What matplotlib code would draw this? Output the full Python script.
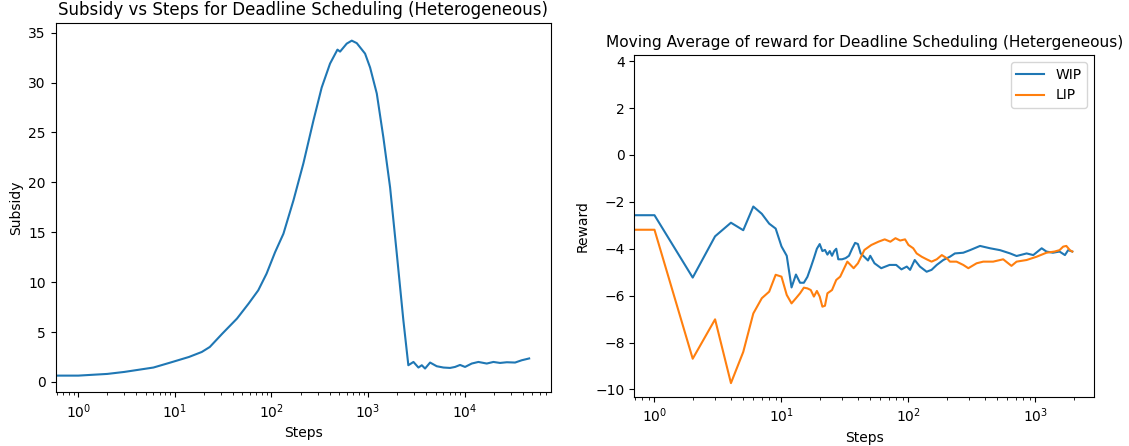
import matplotlib.pyplot as plt

# subsidy curve (left)
sub_steps = [0, 1, 2, 3, 6, 9, 14, 19, 23, 31, 44, 58, 73, 89, 109, 133, 169, 214,
             272, 331, 404, 482, 513, 601, 678, 764, 931, 1050, 1231, 1440, 1690,
             1983, 2318, 2612, 2950, 3320, 3600, 3890, 4385, 5140, 6030, 7060, 7950,
             8960, 10090, 11830, 13870, 16930, 19830, 23240, 27290, 33240, 38990, 46500]
sub_vals = [0.63, 0.63, 0.8, 1.0, 1.44, 1.94, 2.5, 3.0, 3.5, 4.84, 6.35, 7.85, 9.18,
            10.85, 13.0, 14.85, 18.2, 21.9, 26.2, 29.5, 31.9, 33.3, 33.1, 33.9, 34.2,
            33.95, 32.9, 31.5, 28.9, 24.5, 19.5, 12.85, 6.2, 1.67, 2.0, 1.44, 1.67,
            1.34, 1.94, 1.57, 1.44, 1.4, 1.5, 1.7, 1.5, 1.84, 2.0, 1.84, 2.0, 1.9,
            1.97, 1.94, 2.17, 2.35]

# moving average of reward (right)
wip_steps = [0, 1, 2, 3, 4, 5, 6, 7, 8, 9, 10, 11, 12, 13, 14, 15, 16, 17, 18, 19,
             20, 21, 22, 23, 24, 25, 26, 27, 28, 30, 32, 34, 36, 38, 40, 42, 45, 48,
             50, 54, 61, 71, 80, 88, 97, 103, 112, 123, 139, 152, 167, 188, 212, 232,
             270, 305, 366, 439, 526, 632, 710, 852, 961, 1119, 1220, 1372, 1547,
             1706, 1808, 1950]
wip_vals = [-2.57, -2.57, -5.23, -3.47, -2.89, -3.21, -2.2, -2.51, -2.93, -3.14,
            -3.9, -4.3, -5.65, -5.1, -5.45, -5.45, -5.2, -4.8, -4.4, -4.0, -3.8,
            -4.1, -4.05, -4.25, -4.1, -4.3, -4.1, -4.0, -4.45, -4.45, -4.4, -4.3,
            -4.0, -3.75, -3.8, -4.2, -4.35, -4.5, -4.3, -4.62, -4.83, -4.69, -4.69,
            -4.88, -4.76, -4.9, -4.48, -4.76, -4.98, -4.9, -4.69, -4.48, -4.34,
            -4.2, -4.17, -4.06, -3.88, -3.98, -4.06, -4.2, -4.31, -4.2, -4.27,
            -3.98, -4.12, -4.17, -4.12, -4.27, -4.06, -4.12]

lip_steps = [0, 1, 2, 3, 4, 5, 6, 7, 8, 9, 10, 11, 12, 13, 14, 15, 16, 17, 18, 19,
             20, 21, 22, 23, 24, 25, 27, 29, 33, 37, 40, 45, 51, 58, 65, 72, 79, 86,
             94, 100, 109, 116, 127, 139, 152, 167, 183, 201, 212, 239, 270, 296,
             344, 388, 464, 557, 647, 710, 852, 1021, 1220, 1413, 1547, 1653, 1750,
             1866, 1950]
lip_vals = [-3.19, -3.19, -8.69, -7.01, -9.73, -8.4, -6.76, -6.11, -5.83, -5.11,
            -5.19, -5.97, -6.33, -6.11, -5.9, -5.66, -5.69, -5.76, -6.04, -5.8,
            -6.04, -6.47, -6.43, -5.9, -5.83, -5.76, -5.33, -5.19, -4.55, -4.83,
            -4.62, -4.05, -3.84, -3.7, -3.6, -3.7, -3.55, -3.65, -3.6, -3.84,
            -3.98, -4.2, -4.34, -4.45, -4.55, -4.45, -4.27, -4.41, -4.55, -4.55,
            -4.69, -4.83, -4.62, -4.55, -4.55, -4.45, -4.73, -4.55, -4.48, -4.34,
            -4.17, -4.12, -4.06, -3.91, -3.88, -4.06, -4.12]

fig = plt.figure(figsize=(11.29, 4.46), dpi=100)

ax1 = fig.add_axes([0.0492, 0.12, 0.4389, 0.8278])
ax1.plot(sub_steps, sub_vals)
ax1.set_xscale("log")
ax1.set_xlim(0.582, 78400)
ax1.set_ylim(-1.06, 35.94)
ax1.set_xlabel("Steps")
ax1.set_ylabel("Subsidy")
ax1.set_title("Subsidy vs Steps for Deadline Scheduling (Heterogeneous)")

ax2 = fig.add_axes([0.562, 0.1105, 0.407, 0.7661])
ax2.plot(wip_steps, wip_vals, label="WIP")
ax2.plot(lip_steps, lip_vals, label="LIP")
ax2.set_xscale("log")
ax2.set_xlim(0.696, 2890)
ax2.set_ylim(-10.31, 4.26)
ax2.set_xlabel("Steps")
ax2.set_ylabel("Reward")
ax2.set_title("Moving Average of reward for Deadline Scheduling (Hetergeneous)",
              fontsize=11.1)
ax2.legend(loc="upper right")

fig.savefig("out.png", dpi=100)
